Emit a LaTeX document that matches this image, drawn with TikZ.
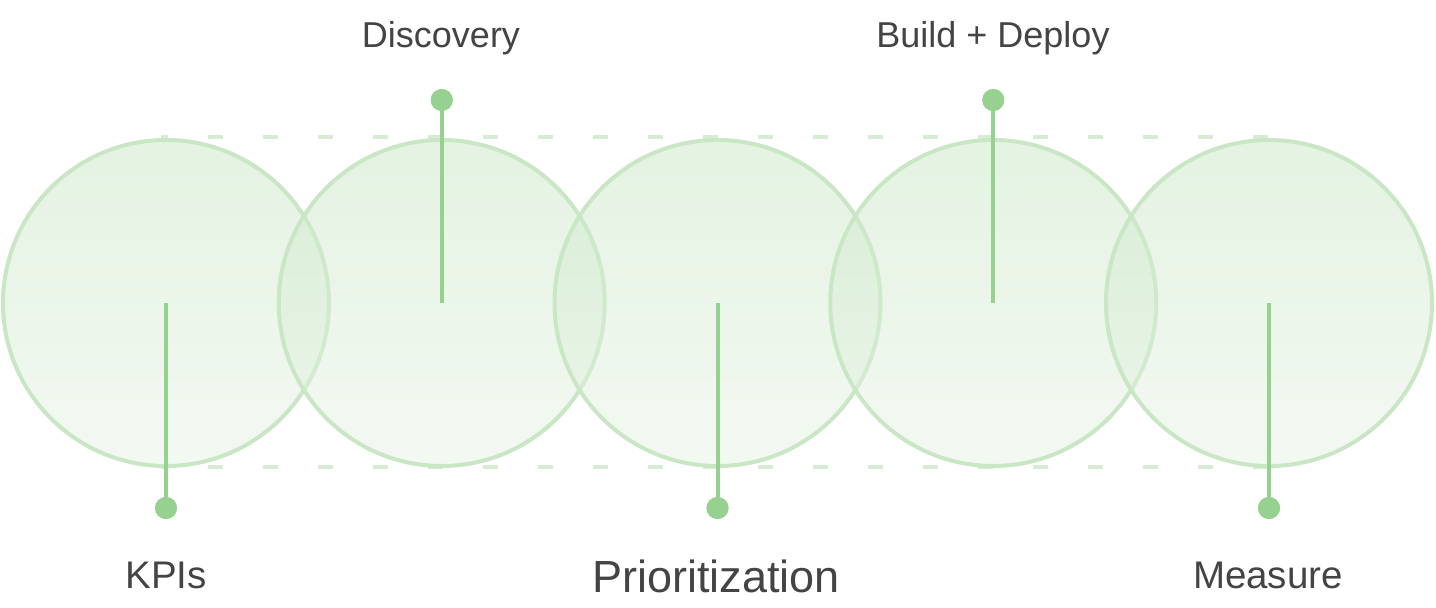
\documentclass[tikz,border=0pt]{standalone}
\usepackage{fontspec}
\setmainfont{Liberation Sans}
\definecolor{txt}{HTML}{444444}
\definecolor{stemc}{HTML}{96D18F}
\definecolor{ringc}{HTML}{C9E6C5}
\definecolor{dashc}{HTML}{D6ECD4}
\definecolor{ftop}{HTML}{C9E7C5}
\definecolor{fbot}{HTML}{E7F3E5}
\begin{document}
\begin{tikzpicture}[x=1pt,y=-1pt,
  ring/.style={circle, minimum size=326pt, inner sep=0pt, draw=ringc, line width=4pt,
    top color=ftop, bottom color=fbot, fill opacity=0.5, draw opacity=1},
  dot/.style={circle, fill=stemc, minimum size=22pt, inner sep=0pt},
  stemline/.style={draw=stemc, line width=4pt},
  guide/.style={draw=dashc, line width=4pt, dash pattern=on 15pt off 40pt, dash phase=8pt},
  lab/.style={text=txt, anchor=base, inner sep=0pt},
  small/.style={font=\fontsize{36}{40}\selectfont},
  mid/.style={font=\fontsize{38.5}{42}\selectfont},
  big/.style={font=\fontsize{45}{50}\selectfont}]
\useasboundingbox (0,0) rectangle (1436,608);
% guide lines
\coordinate (gtl) at (161,137);
\coordinate (gtr) at (1269,137);
\coordinate (gbl) at (161,467);
\coordinate (gbr) at (1269,467);
\draw[guide] (gtl) -- (gtr);
\draw[guide] (gbl) -- (gbr);
% circles
\node[ring] (c1) at (166,303) {};
\node[ring] (c2) at (441.75,303) {};
\node[ring] (c3) at (717.5,303) {};
\node[ring] (c4) at (993.25,303) {};
\node[ring] (c5) at (1269,303) {};
% dots
\node[dot] (d1) at (166,508) {};
\node[dot] (d2) at (441.75,100) {};
\node[dot] (d3) at (717.5,508) {};
\node[dot] (d4) at (993.25,100) {};
\node[dot] (d5) at (1269,508) {};
% stems
\draw[stemline] (c1.center) -- (d1.center);
\draw[stemline] (c2.center) -- (d2.center);
\draw[stemline] (c3.center) -- (d3.center);
\draw[stemline] (c4.center) -- (d4.center);
\draw[stemline] (c5.center) -- (d5.center);
\node[dot] at (d1) {};
\node[dot] at (d2) {};
\node[dot] at (d3) {};
\node[dot] at (d4) {};
\node[dot] at (d5) {};
% labels
\node[lab, small] (l2) at (441,47) {Discovery};
\node[lab, small] (l4) at (993,47) {Build + Deploy};
\node[lab, mid] (l1) at (166,588) {KPIs};
\node[lab, big] (l3) at (716,592) {Prioritization};
\node[lab, mid] (l5) at (1268,588) {Measure};
\end{tikzpicture}
\end{document}
